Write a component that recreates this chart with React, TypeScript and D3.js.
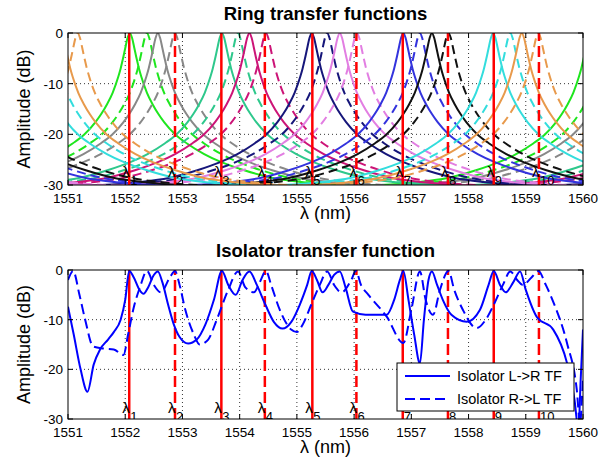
import React, { useEffect, useRef } from 'react';
import * as d3 from 'd3';

const wavelengthTicks = [1551, 1552, 1553, 1554, 1555, 1556, 1557, 1558, 1559, 1560];
const amplitudeTicks = [0, -10, -20, -30];

// channel markers (odd = L->R, solid red; even = R->L, dashed red)
const channelWavelengths = [1552.07, 1552.87, 1553.68, 1554.44, 1555.27, 1556.04, 1556.85, 1557.64, 1558.44, 1559.23];
const channelNames = ['1', '2', '3', '4', '5', '6', '7', '8', '9', '10'];

// ring resonances, solid and dashed curve of each ring
const ringColors = ['#1ee61e', '#888888', '#2ec88c', '#cc1477', '#16167a', '#e27ee2', '#3333dd', '#111111', '#33dddd', '#e89a4c'];
const ringPeaksSolid = [1552.08, 1552.57, 1553.69, 1554.17, 1555.26, 1555.75, 1556.86, 1557.36, 1558.43, 1558.93];
const ringPeaksDashed = [1552.38, 1552.87, 1553.97, 1554.46, 1555.53, 1556.05, 1557.15, 1557.65, 1558.73, 1559.22];
const ringFsr = 8.05;

// drop response of one ring vs detuning from resonance (nm -> dB)
const ringProfileOffset = [0, 0.04, 0.08, 0.12, 0.16, 0.2, 0.3, 0.4, 0.5, 0.6, 0.8, 1.0, 1.3, 1.6, 2.0, 2.5, 3.0, 3.5, 4.03];
const ringProfileDb = [0, -1, -3, -5.1, -7, -8.6, -11.8, -14.1, -16, -17.6, -20.1, -21.8, -23.9, -25.5, -27.1, -28.6, -29.4, -29.9, -30.2];

// isolator transfer functions [nm, dB]
const isolatorLR: [number, number][] = [
  [1551.0, -7.4], [1551.1, -13], [1551.22, -20], [1551.34, -24.5], [1551.45, -19], [1551.56, -16],
  [1551.7, -14], [1551.8, -12.5], [1551.92, -10], [1552.0, -6], [1552.07, -0.2], [1552.15, -1.5],
  [1552.25, -4], [1552.32, -4.8], [1552.4, -3.5], [1552.5, -1], [1552.57, -0.3], [1552.65, -2.5],
  [1552.75, -7], [1552.85, -11], [1552.95, -13.5], [1553.1, -14.8], [1553.25, -14], [1553.4, -11],
  [1553.55, -6], [1553.69, -0.2], [1553.8, -3], [1553.93, -5], [1554.05, -2], [1554.17, -0.3],
  [1554.3, -3], [1554.45, -7], [1554.6, -10.5], [1554.75, -11.8], [1554.9, -10.5], [1555.05, -7],
  [1555.18, -3], [1555.26, -0.2], [1555.35, -2], [1555.45, -4.5], [1555.55, -3], [1555.65, -1],
  [1555.75, -0.3], [1555.85, -3.5], [1555.98, -8.4], [1556.2, -9], [1556.57, -9], [1556.7, -6],
  [1556.8, -2], [1556.86, -0.2], [1556.95, -6], [1557.05, -13], [1557.15, -18.8], [1557.22, -10],
  [1557.3, -2], [1557.36, -0.3], [1557.45, -3], [1557.55, -6], [1557.7, -9], [1557.97, -10.4],
  [1558.2, -8], [1558.35, -3], [1558.44, -0.2], [1558.55, -3], [1558.65, -4.5], [1558.78, -2.5],
  [1558.9, -0.3], [1559.0, -4], [1559.19, -9.4], [1559.48, -12], [1559.72, -18.7], [1559.85, -26],
  [1559.92, -32], [1559.96, -22], [1560.0, -12],
];
const isolatorRL: [number, number][] = [
  [1551.0, -2], [1551.09, -0.2], [1551.2, -5], [1551.3, -10], [1551.44, -15.4], [1551.62, -15.8],
  [1551.8, -16], [1551.97, -17.1], [1552.05, -13], [1552.15, -7.5], [1552.26, -3.4], [1552.38, -0.2],
  [1552.5, -3], [1552.62, -4.5], [1552.78, -1.5], [1552.87, -0.2], [1552.95, -3], [1553.05, -8],
  [1553.2, -13], [1553.3, -15], [1553.45, -14], [1553.6, -10], [1553.8, -4], [1553.97, -0.3],
  [1554.1, -3.5], [1554.25, -4.5], [1554.35, -2.5], [1554.46, -0.2], [1554.55, -3], [1554.7, -8],
  [1554.9, -12], [1555.0, -12.5], [1555.1, -11], [1555.25, -7], [1555.4, -3], [1555.53, -0.3],
  [1555.65, -3], [1555.78, -4.5], [1555.95, -2], [1556.03, -0.2], [1556.12, -3], [1556.25, -5],
  [1556.57, -9.4], [1556.86, -14.7], [1557.0, -8], [1557.15, -0.3], [1557.25, -6], [1557.38, -9],
  [1557.5, -4], [1557.65, -0.2], [1557.75, -4], [1557.9, -8], [1558.14, -11.7], [1558.3, -10],
  [1558.44, -7], [1558.6, -3], [1558.73, -0.3], [1558.85, -2], [1558.95, -3], [1559.1, -1.5],
  [1559.22, -0.2], [1559.35, -3], [1559.48, -6.4], [1559.72, -14.7], [1559.89, -24], [1559.95, -31],
  [1559.98, -26], [1560.0, -22],
];

const FONT = '"Liberation Sans", Arial, Helvetica, sans-serif';
const topBox = { left: 68, right: 583, top: 33, bottom: 185 };
const bottomBox = { left: 68, right: 583, top: 270, bottom: 419 };
const legendBox = { left: 397, top: 363, width: 177, height: 48 };

type Box = typeof topBox;

const App = () => {
  const svgRef = useRef<SVGSVGElement>(null);

  useEffect(() => {
    const svg = d3.select(svgRef.current);
    svg.selectAll('*').remove();
    const defs = svg.append('defs');

    const startPanel = (box: Box, id: string) => {
      const x = d3.scaleLinear().domain([1551, 1560]).range([box.left, box.right]);
      const y = d3.scaleLinear().domain([-30, 0]).range([box.bottom, box.top]);
      defs.append('clipPath').attr('id', id).append('rect')
        .attr('x', box.left).attr('y', box.top)
        .attr('width', box.right - box.left).attr('height', box.bottom - box.top);

      svg.append('rect')
        .attr('x', box.left).attr('y', box.top)
        .attr('width', box.right - box.left).attr('height', box.bottom - box.top)
        .attr('fill', '#fff');

      const grid = svg.append('g')
        .attr('stroke', '#000').attr('stroke-width', 0.8).attr('stroke-dasharray', '1,3');
      grid.selectAll('.gx').data(wavelengthTicks.slice(1, -1)).join('line')
        .attr('x1', d => x(d)).attr('x2', d => x(d))
        .attr('y1', box.top).attr('y2', box.bottom);
      grid.selectAll('.gy').data(amplitudeTicks.slice(1, -1)).join('line')
        .attr('y1', d => y(d)).attr('y2', d => y(d))
        .attr('x1', box.left).attr('x2', box.right);

      const plot = svg.append('g').attr('clip-path', `url(#${id})`);
      return { x, y, plot };
    };

    const finishPanel = (box: Box, x: d3.ScaleLinear<number, number>, y: d3.ScaleLinear<number, number>, title: string) => {
      const g = svg.append('g');
      g.append('rect')
        .attr('x', box.left).attr('y', box.top)
        .attr('width', box.right - box.left).attr('height', box.bottom - box.top)
        .attr('fill', 'none').attr('stroke', '#000').attr('stroke-width', 1);

      const tk = 5;
      const ticks = g.append('g').attr('stroke', '#000').attr('stroke-width', 1);
      wavelengthTicks.forEach(v => {
        ticks.append('line').attr('x1', x(v)).attr('x2', x(v)).attr('y1', box.bottom).attr('y2', box.bottom - tk);
        ticks.append('line').attr('x1', x(v)).attr('x2', x(v)).attr('y1', box.top).attr('y2', box.top + tk);
      });
      amplitudeTicks.forEach(v => {
        ticks.append('line').attr('y1', y(v)).attr('y2', y(v)).attr('x1', box.left).attr('x2', box.left + tk);
        ticks.append('line').attr('y1', y(v)).attr('y2', y(v)).attr('x1', box.right).attr('x2', box.right - tk);
      });

      g.selectAll('.xl').data(wavelengthTicks).join('text')
        .attr('x', d => x(d)).attr('y', box.bottom + 18)
        .attr('text-anchor', 'middle').attr('font-size', 13.5).attr('font-family', FONT)
        .text(d => String(d));
      g.selectAll('.yl').data(amplitudeTicks).join('text')
        .attr('x', box.left - 5).attr('y', d => y(d) + 5)
        .attr('text-anchor', 'end').attr('font-size', 13.5).attr('font-family', FONT)
        .text(d => String(d));

      g.append('text')
        .attr('x', (box.left + box.right) / 2).attr('y', box.bottom + 34)
        .attr('text-anchor', 'middle').attr('font-size', 18).attr('font-family', FONT)
        .text('λ (nm)');
      g.append('text')
        .attr('transform', `translate(30,${(box.top + box.bottom) / 2}) rotate(-90)`)
        .attr('text-anchor', 'middle').attr('font-size', 18).attr('font-family', FONT)
        .text('Amplitude (dB)');
      g.append('text')
        .attr('x', (box.left + box.right) / 2).attr('y', box.top - 13)
        .attr('text-anchor', 'middle').attr('font-size', 18.5).attr('font-weight', 'bold').attr('font-family', FONT)
        .text(title);
    };

    const drawChannels = (
      plot: d3.Selection<SVGGElement, unknown, null, undefined>,
      x: d3.ScaleLinear<number, number>,
      y: d3.ScaleLinear<number, number>,
      lift: number,
      hidden: (px: number) => boolean,
    ) => {
      plot.selectAll('.ch').data(channelWavelengths).join('line')
        .attr('x1', d => x(d)).attr('x2', d => x(d))
        .attr('y1', y(-30)).attr('y2', y(0))
        .attr('stroke', '#ff0000').attr('stroke-width', 2.5)
        .attr('stroke-dasharray', (d, i) => (i % 2 === 1 ? '11,5' : null));
      const labels = plot.append('g').attr('font-family', FONT).attr('fill', '#000');
      channelWavelengths.forEach((d, i) => {
        // lambda glyphs sitting under the legend box are not visible
        if (!hidden(x(d))) {
          labels.append('text').attr('x', x(d) + 0.5).attr('y', y(-27) + lift)
            .attr('text-anchor', 'end').attr('font-size', 15).text('λ');
        }
        labels.append('text').attr('x', x(d) + 1).attr('y', y(-27) + lift + 8)
          .attr('font-size', 13).text(channelNames[i]);
      });
    };

    // ---------- ring transfer functions ----------
    {
      const { x, y, plot } = startPanel(topBox, 'clipTop');
      const line = d3.line<[number, number]>().x(d => x(d[0])).y(d => y(d[1])).curve(d3.curveMonotoneX);
      const ringPoints = (c: number): [number, number][] => {
        const left = ringProfileOffset.slice(1).reverse().map((o, i, arr): [number, number] =>
          [c - o, ringProfileDb[arr.length - i]]);
        const right = ringProfileOffset.map((o, i): [number, number] => [c + o, ringProfileDb[i]]);
        return left.concat(right);
      };
      ringColors.forEach((color, r) => {
        [ringPeaksSolid[r], ringPeaksDashed[r]].forEach((peak, k) => {
          [-1, 0, 1].forEach(n => {
            plot.append('path')
              .attr('d', line(ringPoints(peak + n * ringFsr)))
              .attr('fill', 'none').attr('stroke', color).attr('stroke-width', 2)
              .attr('stroke-dasharray', k === 1 ? '9,5' : null);
          });
        });
      });
      drawChannels(plot, x, y, 7, () => false);
      finishPanel(topBox, x, y, 'Ring transfer functions');
    }

    // ---------- isolator transfer function ----------
    {
      const { x, y, plot } = startPanel(bottomBox, 'clipBottom');
      const line = d3.line<[number, number]>().x(d => x(d[0])).y(d => y(d[1])).curve(d3.curveMonotoneX);
      drawChannels(plot, x, y, 9, px => px > legendBox.left && px < legendBox.left + legendBox.width + 8);
      plot.append('path').attr('d', line(isolatorLR))
        .attr('fill', 'none').attr('stroke', '#0000ff').attr('stroke-width', 2);
      plot.append('path').attr('d', line(isolatorRL))
        .attr('fill', 'none').attr('stroke', '#0000ff').attr('stroke-width', 2)
        .attr('stroke-dasharray', '10,5');
      finishPanel(bottomBox, x, y, 'Isolator transfer function');

      const legend = svg.append('g');
      legend.append('rect')
        .attr('x', legendBox.left).attr('y', legendBox.top)
        .attr('width', legendBox.width).attr('height', legendBox.height)
        .attr('fill', '#fff').attr('stroke', '#000').attr('stroke-width', 1);
      const entries = [
        { label: 'Isolator L->R TF', dash: null },
        { label: 'Isolator R->L TF', dash: '10,5' },
      ];
      entries.forEach((e, i) => {
        const ly = legendBox.top + 13 + i * 23;
        legend.append('line').attr('x1', legendBox.left + 8).attr('x2', legendBox.left + 53)
          .attr('y1', ly).attr('y2', ly)
          .attr('stroke', '#0000ff').attr('stroke-width', 2).attr('stroke-dasharray', e.dash);
        legend.append('text').attr('x', legendBox.left + 60).attr('y', ly + 5)
          .attr('font-size', 14.5).attr('font-family', FONT).text(e.label);
      });
    }
  }, []);

  return (
    <svg
      ref={svgRef}
      width={615}
      height={472}
      style={{ position: 'absolute', left: 0, top: 0, background: '#fff' }}
    />
  );
};

export default App;
